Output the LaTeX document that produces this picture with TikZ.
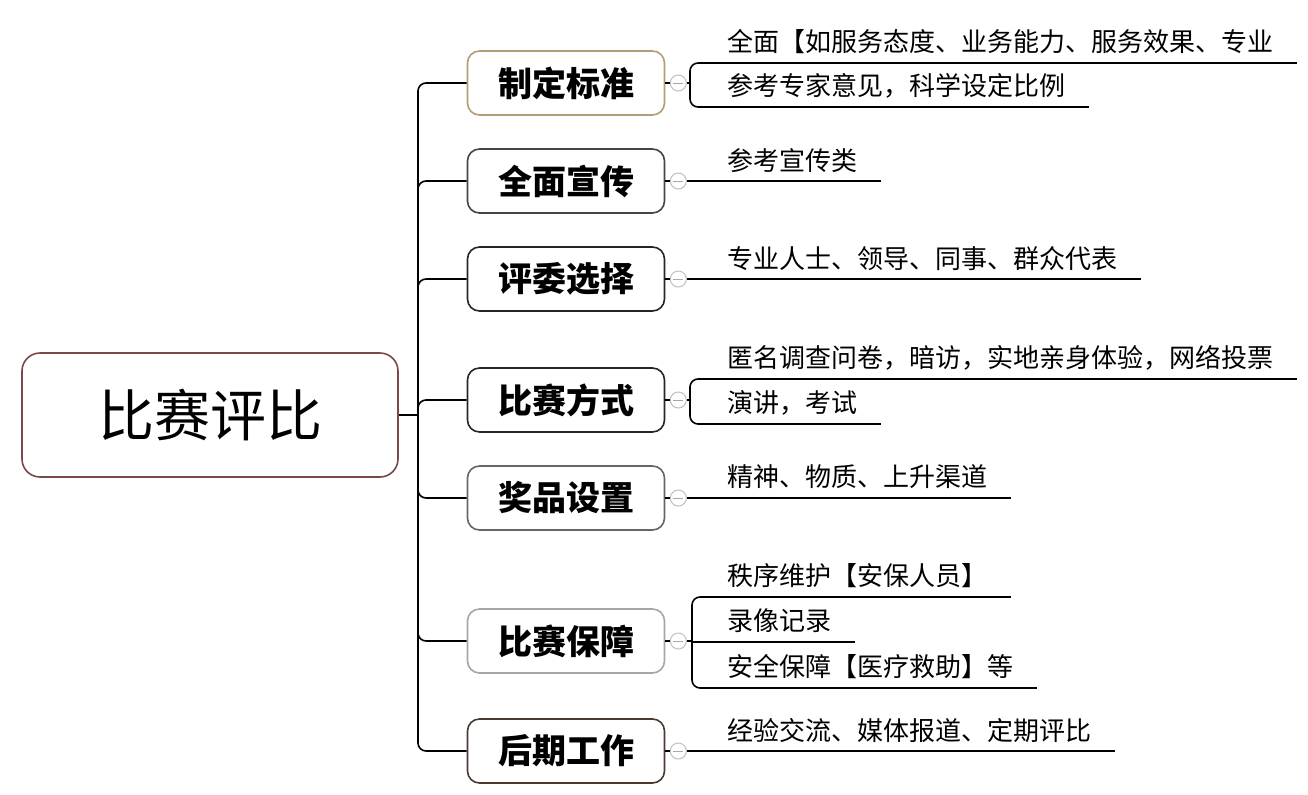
\documentclass[tikz,border=0pt]{standalone}
\usepackage{fontspec}
\setmainfont{Noto Sans CJK SC}
\usetikzlibrary{calc}
\definecolor{rootc}{HTML}{7A4848}
\definecolor{tanc}{HTML}{B49C74}
\definecolor{greenc}{HTML}{3E4A40}
\definecolor{brownc}{HTML}{4A3A34}

\begin{document}
\begin{tikzpicture}[x=0.5pt,y=-0.5pt]
\tikzstyle{root} = [draw=rootc, rounded corners=9pt, line width=0.8pt, minimum width=188pt, minimum height=62pt, font=\fontsize{28}{30}\selectfont]
\tikzstyle{topic} = [draw=black!85, rounded corners=6pt, line width=0.8pt, minimum width=98.5pt, minimum height=32pt, font=\fontsize{17}{18}\selectfont\bfseries]
\tikzstyle{fold} = [circle, draw=black!25, fill=white, minimum size=8pt, inner sep=0pt, line width=0.5pt,
    path picture={\draw[black!35, line width=0.4pt] ($(path picture bounding box.west)+(3,0)$) -- ($(path picture bounding box.east)+(-3,0)$);}]
\tikzstyle{leaf} = [anchor=south west, inner sep=0pt, text depth=5.5pt, font=\fontsize{13}{15}\selectfont]
\tikzstyle{link} = [line width=0.8pt, rounded corners=4pt]
\useasboundingbox (0,0) rectangle (1308,794);

\node[root] (root) at (210,415) {比赛评比};
\coordinate (hub) at (418,415);
\node[topic, draw=tanc] (t1) at (566,83) {制定标准};
\node[topic, draw=greenc] (t2) at (566,181) {全面宣传};
\node[topic] (t3) at (566,279) {评委选择};
\node[topic] (t4) at (566,400) {比赛方式};
\node[topic, draw=black!60] (t5) at (566,498) {奖品设置};
\node[topic, draw=black!35] (t6) at (566,641) {比赛保障};
\node[topic, draw=brownc] (t7) at (566,751) {后期工作};

\draw[link] (root) -- (hub);
\foreach \i in {1,...,7}
    \draw[link] (hub) |- (t\i.west);

% leaves
\node[leaf] (l11) at (727,63) {全面【如服务态度、业务能力、服务效果、专业};
\node[leaf] (l12) at (727,107) {参考专家意见，科学设定比例};
\node[leaf] (l2) at (727,182) {参考宣传类};
\node[leaf] (l3) at (727,280) {专业人士、领导、同事、群众代表};
\node[leaf] (l41) at (727,379) {匿名调查问卷，暗访，实地亲身体验，网络投票};
\node[leaf] (l42) at (727,424) {演讲，考试};
\node[leaf] (l5) at (727,498) {精神、物质、上升渠道};
\node[leaf] (l61) at (727,597) {秩序维护【安保人员】};
\node[leaf] (l62) at (727,642) {录像记录};
\node[leaf] (l63) at (727,688) {安全保障【医疗救助】等};
\node[leaf] (l7) at (727,752) {经验交流、媒体报道、定期评比};

\foreach \l in {l11,l12,l2,l3,l41,l42,l5,l61,l62,l63,l7}
    \coordinate[xshift=11.5pt] (e\l) at (\l.south east);

\coordinate (k1) at (690,85);
\coordinate (k4) at (690,401);
\coordinate (k6) at (692,642);

\draw[link] (k1) |- (el11);
\draw[link] (k1) |- (el12);
\draw[link] (k4) |- (el41);
\draw[link] (k4) |- (el42);
\draw[link] (k6) |- (el61);
\draw[link] (k6) -- (el62);
\draw[link] (k6) |- (el63);

\foreach \i/\k in {1/k1,2/el2,3/el3,4/k4,5/el5,6/k6,7/el7} {
    \node[fold] (f\i) at ($(t\i.east)+(13,0)$) {};
    \draw[line width=0.6pt] (t\i.east) -- (f\i.west);
    \draw[link] (f\i.east) -- (f\i.east -| \k);
}
\end{tikzpicture}
\end{document}
